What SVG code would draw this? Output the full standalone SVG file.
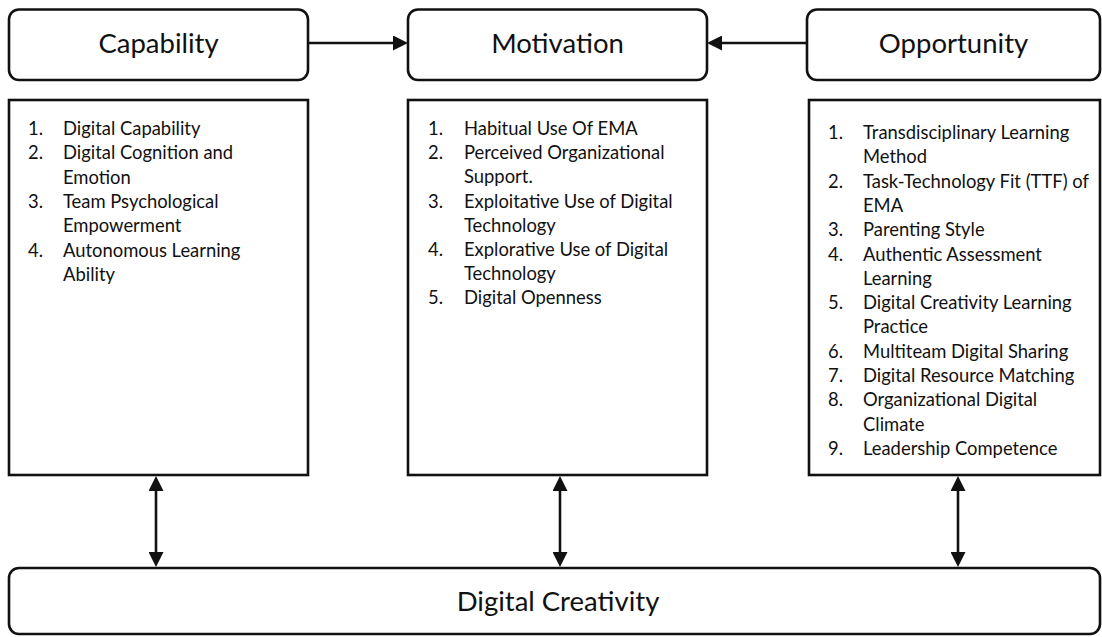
<svg xmlns="http://www.w3.org/2000/svg" width="1102" height="637" viewBox="0 0 1102 637">
  <style>
    .box { fill: #ffffff; stroke: #111111; stroke-width: 2.6; }
    .title { font-family: Lato, "Open Sans", "Liberation Sans", sans-serif; font-size: 27.5px; fill: #111111; text-anchor: middle; }
    .item { font-family: Lato, "Open Sans", "Liberation Sans", sans-serif; font-size: 18.4px; fill: #111111; }
    .conn { stroke: #111111; stroke-width: 2.6; fill: none; }
  </style>
  <defs>
    <marker id="head" viewBox="0 0 15 15" refX="11" refY="7.5" markerWidth="15" markerHeight="15" markerUnits="userSpaceOnUse" orient="auto-start-reverse">
      <path d="M0,0 L15,7.5 L0,15 z" fill="#111111"/>
    </marker>
  </defs>

  <rect width="1102" height="637" fill="#ffffff"/>

  <!-- COM-B header nodes -->
  <g id="capability">
    <rect class="box" x="9" y="9.5" width="299" height="70.5" rx="10"/>
    <text class="title" x="158.5" y="53">Capability</text>
  </g>
  <g id="motivation">
    <rect class="box" x="408" y="9.5" width="299" height="70.5" rx="10"/>
    <text class="title" x="557.5" y="53">Motivation</text>
  </g>
  <g id="opportunity">
    <rect class="box" x="807" y="9.5" width="293" height="70.5" rx="10"/>
    <text class="title" x="953.5" y="53">Opportunity</text>
  </g>

  <!-- Factor lists -->
  <g id="capability-factors">
    <rect class="box" x="9" y="100" width="299" height="375"/>
    <text class="item" x="28" y="135">1.</text>
    <text class="item" x="63" y="135">Digital Capability</text>
    <text class="item" x="28" y="159.3">2.</text>
    <text class="item" x="63" y="159.3">Digital Cognition and</text>
    <text class="item" x="63" y="183.6">Emotion</text>
    <text class="item" x="28" y="207.9">3.</text>
    <text class="item" x="63" y="207.9">Team Psychological</text>
    <text class="item" x="63" y="232.2">Empowerment</text>
    <text class="item" x="28" y="256.5">4.</text>
    <text class="item" x="63" y="256.5">Autonomous Learning</text>
    <text class="item" x="63" y="280.8">Ability</text>
  </g>
  <g id="motivation-factors">
    <rect class="box" x="408" y="100" width="299" height="375"/>
    <text class="item" x="428" y="135">1.</text>
    <text class="item" x="464" y="135">Habitual Use Of EMA</text>
    <text class="item" x="428" y="159.2">2.</text>
    <text class="item" x="464" y="159.2">Perceived Organizational</text>
    <text class="item" x="464" y="183.4">Support.</text>
    <text class="item" x="428" y="207.6">3.</text>
    <text class="item" x="464" y="207.6">Exploitative Use of Digital</text>
    <text class="item" x="464" y="231.8">Technology</text>
    <text class="item" x="428" y="256">4.</text>
    <text class="item" x="464" y="256">Explorative Use of Digital</text>
    <text class="item" x="464" y="280.2">Technology</text>
    <text class="item" x="428" y="304.4">5.</text>
    <text class="item" x="464" y="304.4">Digital Openness</text>
  </g>
  <g id="opportunity-factors">
    <rect class="box" x="809" y="100" width="291" height="375"/>
    <text class="item" x="828" y="139">1.</text>
    <text class="item" x="863" y="139">Transdisciplinary Learning</text>
    <text class="item" x="863" y="163.3">Method</text>
    <text class="item" x="828" y="187.6">2.</text>
    <text class="item" x="863" y="187.6">Task-Technology Fit (TTF) of</text>
    <text class="item" x="863" y="211.9">EMA</text>
    <text class="item" x="828" y="236.2">3.</text>
    <text class="item" x="863" y="236.2">Parenting Style</text>
    <text class="item" x="828" y="260.5">4.</text>
    <text class="item" x="863" y="260.5">Authentic Assessment</text>
    <text class="item" x="863" y="284.8">Learning</text>
    <text class="item" x="828" y="309.1">5.</text>
    <text class="item" x="863" y="309.1">Digital Creativity Learning</text>
    <text class="item" x="863" y="333.4">Practice</text>
    <text class="item" x="828" y="357.7">6.</text>
    <text class="item" x="863" y="357.7">Multiteam Digital Sharing</text>
    <text class="item" x="828" y="382">7.</text>
    <text class="item" x="863" y="382">Digital Resource Matching</text>
    <text class="item" x="828" y="406.3">8.</text>
    <text class="item" x="863" y="406.3">Organizational Digital</text>
    <text class="item" x="863" y="430.6">Climate</text>
    <text class="item" x="828" y="454.9">9.</text>
    <text class="item" x="863" y="454.9">Leadership Competence</text>
  </g>

  <!-- Outcome node -->
  <g id="digital-creativity">
    <rect class="box" x="9" y="568" width="1091" height="66" rx="10"/>
    <text class="title" x="558" y="611">Digital Creativity</text>
  </g>

  <!-- Connectors -->
  <g id="connectors">
    <line class="conn" x1="308" y1="43" x2="404" y2="43" marker-end="url(#head)"/>
    <line class="conn" x1="807" y1="43" x2="711" y2="43" marker-end="url(#head)"/>
    <line class="conn" x1="156" y1="480" x2="156" y2="563" marker-start="url(#head)" marker-end="url(#head)"/>
    <line class="conn" x1="560" y1="480" x2="560" y2="563" marker-start="url(#head)" marker-end="url(#head)"/>
    <line class="conn" x1="958" y1="480" x2="958" y2="563" marker-start="url(#head)" marker-end="url(#head)"/>
  </g>
</svg>
